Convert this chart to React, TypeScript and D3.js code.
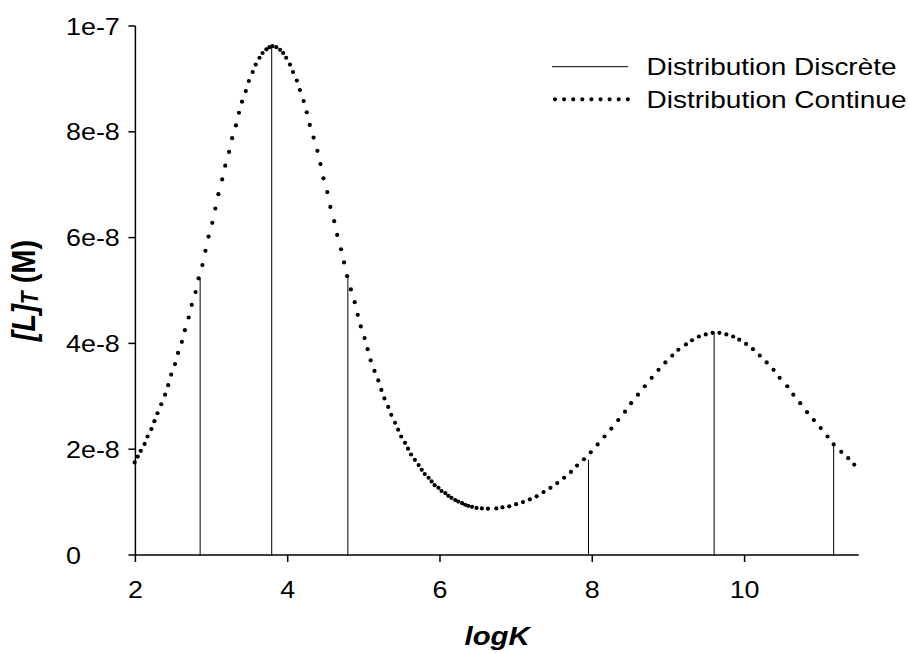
import React from "react";
import * as d3 from "d3";

// Continuous distribution (logK, [L]T in M)
const curveLogK = [
  1.99, 2.03, 2.07, 2.12, 2.16, 2.21, 2.25, 2.29, 2.34, 2.39, 2.43, 2.47, 2.52, 2.56, 2.61, 2.65, 2.7, 2.74, 2.79, 2.83,
  2.88, 2.92, 2.96, 3.01, 3.05, 3.09, 3.14, 3.18, 3.23, 3.27, 3.32, 3.36, 3.4, 3.45, 3.49, 3.54, 3.58, 3.63, 3.67, 3.72,
  3.76, 3.8, 3.85, 3.9, 3.94, 3.98, 4.03, 4.07, 4.12, 4.16, 4.21, 4.25, 4.29, 4.34, 4.39, 4.43, 4.47, 4.52, 4.56, 4.61,
  4.65, 4.7, 4.74, 4.78, 4.83, 4.88, 4.92, 4.96, 5.01, 5.05, 5.09, 5.14, 5.19, 5.23, 5.27, 5.32, 5.36, 5.41, 5.45, 5.49,
  5.54, 5.58, 5.62, 5.67, 5.72, 5.76, 5.8, 5.85, 5.89, 5.93, 5.98, 6.02, 6.07, 6.11, 6.15, 6.2, 6.24, 6.29, 6.33, 6.37,
  6.42, 6.48, 6.55, 6.63, 6.74, 6.82, 6.91, 7.0, 7.09, 7.18, 7.27, 7.36, 7.45, 7.54, 7.63, 7.72, 7.8, 7.89, 7.98, 8.07,
  8.16, 8.25, 8.34, 8.43, 8.51, 8.6, 8.69, 8.78, 8.87, 8.96, 9.05, 9.13, 9.23, 9.31, 9.4, 9.49, 9.58, 9.67, 9.76, 9.85,
  9.93, 10.02, 10.11, 10.2, 10.29, 10.38, 10.46, 10.56, 10.64, 10.73, 10.82, 10.91, 11.0, 11.09, 11.17, 11.27, 11.36, 11.44,
];
const curveValue = [
  1.75e-8, 1.86e-8, 1.97e-8, 2.1e-8, 2.24e-8, 2.38e-8, 2.53e-8, 2.68e-8, 2.85e-8, 3.03e-8, 3.21e-8, 3.41e-8, 3.61e-8, 3.82e-8, 4.03e-8, 4.25e-8, 4.49e-8, 4.73e-8, 4.97e-8, 5.23e-8,
  5.48e-8, 5.75e-8, 6.02e-8, 6.28e-8, 6.55e-8, 6.82e-8, 7.1e-8, 7.36e-8, 7.62e-8, 7.88e-8, 8.12e-8, 8.36e-8, 8.57e-8, 8.77e-8, 8.96e-8, 9.13e-8, 9.27e-8, 9.4e-8, 9.49e-8, 9.56e-8,
  9.6e-8, 9.62e-8, 9.6e-8, 9.55e-8, 9.49e-8, 9.4e-8, 9.27e-8, 9.13e-8, 8.97e-8, 8.79e-8, 8.58e-8, 8.37e-8, 8.13e-8, 7.89e-8, 7.64e-8, 7.39e-8, 7.12e-8, 6.86e-8, 6.58e-8, 6.31e-8,
  6.05e-8, 5.78e-8, 5.53e-8, 5.27e-8, 5.02e-8, 4.78e-8, 4.54e-8, 4.32e-8, 4.1e-8, 3.89e-8, 3.68e-8, 3.48e-8, 3.3e-8, 3.12e-8, 2.96e-8, 2.8e-8, 2.65e-8, 2.5e-8, 2.37e-8, 2.24e-8,
  2.12e-8, 2.01e-8, 1.9e-8, 1.8e-8, 1.7e-8, 1.61e-8, 1.53e-8, 1.46e-8, 1.39e-8, 1.32e-8, 1.27e-8, 1.21e-8, 1.17e-8, 1.12e-8, 1.08e-8, 1.04e-8, 1.01e-8, 0.98e-8, 0.95e-8, 0.93e-8,
  0.91e-8, 0.89e-8, 0.88e-8, 0.875e-8, 0.88e-8, 0.9e-8, 0.92e-8, 0.96e-8, 1.0e-8, 1.05e-8, 1.11e-8, 1.19e-8, 1.27e-8, 1.36e-8, 1.46e-8, 1.57e-8, 1.69e-8, 1.81e-8, 1.94e-8, 2.09e-8,
  2.24e-8, 2.39e-8, 2.55e-8, 2.71e-8, 2.87e-8, 3.03e-8, 3.19e-8, 3.35e-8, 3.5e-8, 3.64e-8, 3.77e-8, 3.88e-8, 3.98e-8, 4.06e-8, 4.13e-8, 4.17e-8, 4.2e-8, 4.2e-8, 4.17e-8, 4.13e-8,
  4.07e-8, 3.99e-8, 3.89e-8, 3.77e-8, 3.64e-8, 3.5e-8, 3.35e-8, 3.19e-8, 3.03e-8, 2.87e-8, 2.7e-8, 2.55e-8, 2.4e-8, 2.24e-8, 2.09e-8, 1.95e-8, 1.83e-8, 1.71e-8,
];

// Discrete distribution (vertical lines)
const discreteLogK = [2.85, 3.79, 4.79, 7.95, 9.6, 11.17];
const discreteValue = [5.23e-8, 9.63e-8, 5.27e-8, 1.8e-8, 4.2e-8, 2.09e-8];

const xTicks = [2, 4, 6, 8, 10];
const xTickLabels = ["2", "4", "6", "8", "10"];
const yTicks = [0, 2e-8, 4e-8, 6e-8, 8e-8, 1e-7];
const yTickLabels = ["0", "2e-8", "4e-8", "6e-8", "8e-8", "1e-7"];
const legendLabels = ["Distribution Discrète", "Distribution Continue"];

const W = 909;
const H = 653;
const FONT = "'Liberation Sans', Arial, Helvetica, sans-serif";

export default function App() {
  const x = d3.scaleLinear().domain([2, 11.5]).range([135.4, 858.8]);
  const y = d3.scaleLinear().domain([0, 1e-7]).range([555, 26]);
  const x0 = x(2);
  const y0 = y(0);
  const tick = 7;
  const sx = 1.12;

  return (
    <svg
      width={W}
      height={H}
      viewBox={`0 0 ${W} ${H}`}
      style={{ position: "absolute", left: 0, top: 0, background: "#fff" }}
      fontFamily={FONT}
    >
      <rect x={0} y={0} width={W} height={H} fill="#fff" />

      {/* discrete lines */}
      {discreteLogK.map((k, i) => (
        <line
          key={"d" + i}
          x1={x(k)}
          x2={x(k)}
          y1={y0}
          y2={y(discreteValue[i])}
          stroke="#000"
          strokeWidth={1}
        />
      ))}

      {/* continuous distribution dots */}
      {curveLogK.map((k, i) => (
        <circle key={"c" + i} cx={x(k)} cy={y(curveValue[i])} r={2.1} fill="#000" />
      ))}

      {/* axes */}
      <line x1={x0} x2={x0} y1={y(1e-7)} y2={y0} stroke="#000" strokeWidth={1.5} />
      <line x1={x0} x2={x(11.5)} y1={y0} y2={y0} stroke="#000" strokeWidth={1.5} />

      {yTicks.map((t, i) => (
        <g key={"yt" + i}>
          <line x1={x0 - tick} x2={x0} y1={y(t)} y2={y(t)} stroke="#000" strokeWidth={1.5} />
          <text
            transform={`translate(66,${y(t) + 8.5}) scale(${sx},1)`}
            fontSize={24}
            textAnchor="start"
            fill="#000"
          >
            {yTickLabels[i]}
          </text>
        </g>
      ))}

      {xTicks.map((t, i) => (
        <g key={"xt" + i}>
          <line x1={x(t)} x2={x(t)} y1={y0} y2={y0 + tick} stroke="#000" strokeWidth={1.5} />
          <text
            transform={`translate(${x(t)},598) scale(${sx},1)`}
            fontSize={24}
            textAnchor="middle"
            fill="#000"
          >
            {xTickLabels[i]}
          </text>
        </g>
      ))}

      {/* axis titles */}
      <text
        transform={`translate(${(x0 + x(11.5)) / 2},645) scale(1.13,1)`}
        fontSize={26}
        fontWeight="bold"
        fontStyle="italic"
        textAnchor="middle"
        fill="#000"
      >
        logK
      </text>
      <text
        transform={`translate(35,${(y(0) + y(1e-7)) / 2}) scale(1.15,1) rotate(-90)`}
        fontSize={29}
        fontWeight="bold"
        textAnchor="middle"
        fill="#000"
      >
        <tspan fontStyle="italic">[L]</tspan>
        <tspan fontStyle="italic" fontSize={21} dy={3}>T</tspan>
        <tspan dy={-3}> (M)</tspan>
      </text>

      {/* legend */}
      <line x1={552} x2={628} y1={66.7} y2={66.7} stroke="#000" strokeWidth={1} />
      <line
        x1={555}
        x2={629}
        y1={99.3}
        y2={99.3}
        stroke="#000"
        strokeWidth={4.2}
        strokeLinecap="round"
        strokeDasharray="0 9.1"
      />
      <text x={646.5} y={75} fontSize={24} fill="#000" textLength={250} lengthAdjust="spacingAndGlyphs">
        {legendLabels[0]}
      </text>
      <text x={646.5} y={108} fontSize={24} fill="#000" textLength={260} lengthAdjust="spacingAndGlyphs">
        {legendLabels[1]}
      </text>
    </svg>
  );
}
